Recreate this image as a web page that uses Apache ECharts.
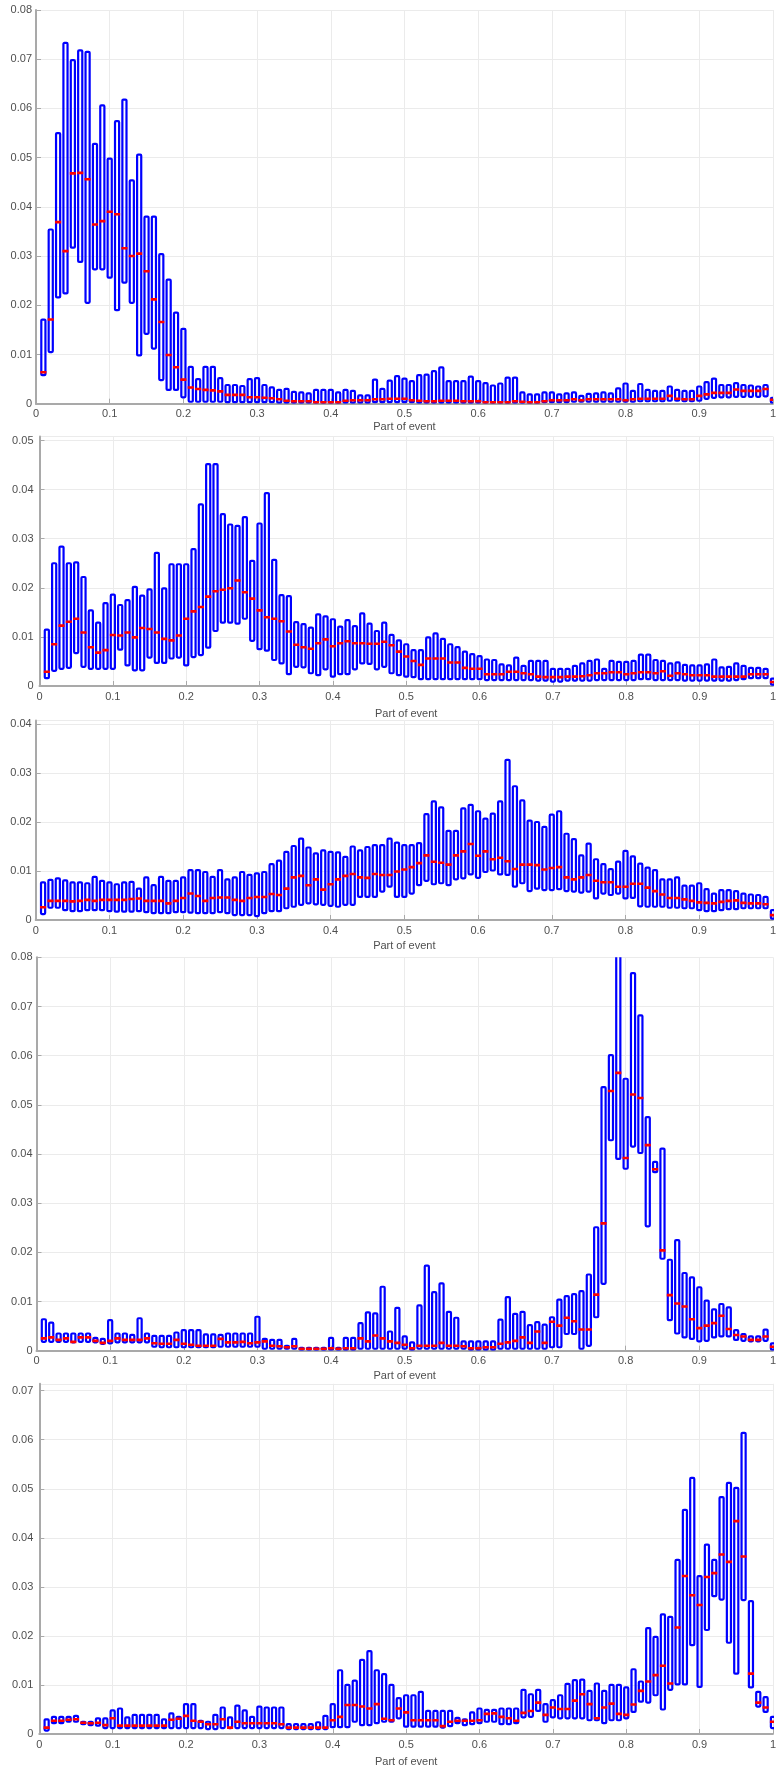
<!DOCTYPE html>
<html>
<head>
<meta charset="utf-8">
<title>Part of event</title>
<script src="https://cdn.jsdelivr.net/npm/echarts@6/dist/echarts.min.js"></script>
<style>
  html, body { margin: 0; padding: 0; background: #ffffff; }
  #chart { width: 779px; height: 1771px; }
</style>
</head>
<body>
<div id="chart"></div>
<script>
// Box positions along the event (fraction of the event)
const partOfEvent = [
  0.01,0.02,0.03,0.04,0.05,0.06,0.07,0.08,0.09,0.10,
  0.11,0.12,0.13,0.14,0.15,0.16,0.17,0.18,0.19,0.20,
  0.21,0.22,0.23,0.24,0.25,0.26,0.27,0.28,0.29,0.30,
  0.31,0.32,0.33,0.34,0.35,0.36,0.37,0.38,0.39,0.40,
  0.41,0.42,0.43,0.44,0.45,0.46,0.47,0.48,0.49,0.50,
  0.51,0.52,0.53,0.54,0.55,0.56,0.57,0.58,0.59,0.60,
  0.61,0.62,0.63,0.64,0.65,0.66,0.67,0.68,0.69,0.70,
  0.71,0.72,0.73,0.74,0.75,0.76,0.77,0.78,0.79,0.80,
  0.81,0.82,0.83,0.84,0.85,0.86,0.87,0.88,0.89,0.90,
  0.91,0.92,0.93,0.94,0.95,0.96,0.97,0.98,0.99,1.00
];

const xTicks = [0, 0.1, 0.2, 0.3, 0.4, 0.5, 0.6, 0.7, 0.8, 0.9, 1];
const yMax = [0.08, 0.0508, 0.0407, 0.08, 0.0714];

// ---- Event type 1 ----
const lowerQuartile1 = [
  0.0058,0.0105,0.0216,0.0224,0.0317,0.0288,0.0205,0.0273,0.0273,0.0256,
  0.0190,0.0246,0.0205,0.0098,0.0142,0.0112,0.0048,0.0028,0.0028,0.0013,
  0.0004,0.0004,0.0004,0.0004,0.0004,0.0003,0.0003,0.0003,0.0003,0.0003,
  0.0003,0.0003,0.0002,0.0002,0.0002,0.0002,0.0002,0.0002,0.0002,0.0002,
  0.0002,0.0002,0.0002,0.0002,0.0002,0.0003,0.0003,0.0003,0.0003,0.0003,
  0.0003,0.0002,0.0002,0.0002,0.0002,0.0002,0.0002,0.0002,0.0002,0.0002,
  0.0002,0.0002,0.0002,0.0002,0.0002,0.0002,0.0002,0.0002,0.0003,0.0003,
  0.0003,0.0003,0.0004,0.0004,0.0004,0.0004,0.0004,0.0004,0.0004,0.0004,
  0.0004,0.0005,0.0005,0.0005,0.0005,0.0006,0.0006,0.0005,0.0005,0.0006,
  0.0010,0.0012,0.0013,0.0013,0.0014,0.0014,0.0014,0.0014,0.0015,0.0002
];
const median1 = [
  0.0064,0.0171,0.0369,0.0310,0.0468,0.0469,0.0456,0.0364,0.0371,0.0390,
  0.0385,0.0316,0.0300,0.0305,0.0269,0.0212,0.0166,0.0099,0.0074,0.0049,
  0.0033,0.0030,0.0028,0.0027,0.0025,0.0018,0.0018,0.0018,0.0013,0.0013,
  0.0012,0.0011,0.0009,0.0006,0.0005,0.0005,0.0005,0.0003,0.0003,0.0003,
  0.0003,0.0006,0.0007,0.0007,0.0007,0.0009,0.0009,0.0010,0.0010,0.0010,
  0.0007,0.0006,0.0005,0.0005,0.0006,0.0006,0.0006,0.0005,0.0005,0.0005,
  0.0003,0.0003,0.0003,0.0003,0.0005,0.0004,0.0003,0.0003,0.0005,0.0007,
  0.0007,0.0007,0.0009,0.0007,0.0009,0.0009,0.0009,0.0009,0.0009,0.0007,
  0.0009,0.0010,0.0010,0.0010,0.0010,0.0016,0.0010,0.0009,0.0009,0.0016,
  0.0019,0.0022,0.0022,0.0022,0.0029,0.0026,0.0026,0.0026,0.0030,0.0008
];
const upperQuartile1 = [
  0.0171,0.0354,0.0550,0.0733,0.0698,0.0718,0.0715,0.0528,0.0606,0.0498,
  0.0574,0.0618,0.0454,0.0506,0.0380,0.0380,0.0304,0.0252,0.0185,0.0152,
  0.0075,0.0050,0.0075,0.0075,0.0052,0.0038,0.0038,0.0036,0.0050,0.0052,
  0.0038,0.0033,0.0028,0.0030,0.0024,0.0023,0.0021,0.0028,0.0028,0.0028,
  0.0023,0.0028,0.0026,0.0017,0.0017,0.0049,0.0030,0.0047,0.0056,0.0051,
  0.0046,0.0058,0.0059,0.0066,0.0074,0.0046,0.0046,0.0046,0.0055,0.0046,
  0.0042,0.0037,0.0041,0.0053,0.0053,0.0023,0.0019,0.0019,0.0023,0.0023,
  0.0019,0.0021,0.0023,0.0016,0.0020,0.0021,0.0023,0.0021,0.0031,0.0041,
  0.0026,0.0040,0.0028,0.0026,0.0026,0.0035,0.0028,0.0026,0.0026,0.0035,
  0.0044,0.0051,0.0038,0.0038,0.0042,0.0038,0.0037,0.0035,0.0038,0.0012
];

// ---- Event type 2 ----
const lowerQuartile2 = [
  0.0016,0.0031,0.0035,0.0037,0.0067,0.0039,0.0035,0.0035,0.0035,0.0035,
  0.0074,0.0042,0.0032,0.0032,0.0058,0.0047,0.0047,0.0056,0.0058,0.0042,
  0.0059,0.0063,0.0078,0.0112,0.0129,0.0129,0.0127,0.0137,0.0092,0.0075,
  0.0072,0.0053,0.0046,0.0024,0.0039,0.0038,0.0026,0.0022,0.0034,0.0019,
  0.0024,0.0024,0.0034,0.0046,0.0045,0.0034,0.0039,0.0026,0.0022,0.0019,
  0.0018,0.0014,0.0014,0.0014,0.0014,0.0014,0.0014,0.0014,0.0014,0.0014,
  0.0012,0.0012,0.0012,0.0012,0.0012,0.0012,0.0012,0.0011,0.0011,0.0009,
  0.0009,0.0011,0.0011,0.0011,0.0011,0.0012,0.0012,0.0012,0.0012,0.0012,
  0.0012,0.0014,0.0014,0.0012,0.0012,0.0012,0.0012,0.0011,0.0011,0.0011,
  0.0011,0.0011,0.0011,0.0011,0.0012,0.0014,0.0016,0.0016,0.0016,0.0003
];
const median2 = [
  0.0029,0.0085,0.0123,0.0131,0.0137,0.0109,0.0079,0.0068,0.0073,0.0104,
  0.0103,0.0109,0.0099,0.0118,0.0116,0.0109,0.0096,0.0093,0.0103,0.0137,
  0.0152,0.0161,0.0182,0.0193,0.0196,0.0199,0.0215,0.0191,0.0178,0.0154,
  0.0140,0.0137,0.0132,0.0111,0.0084,0.0079,0.0076,0.0087,0.0095,0.0081,
  0.0087,0.0091,0.0087,0.0087,0.0086,0.0086,0.0090,0.0083,0.0070,0.0060,
  0.0051,0.0043,0.0056,0.0056,0.0056,0.0048,0.0048,0.0037,0.0035,0.0035,
  0.0024,0.0024,0.0024,0.0029,0.0029,0.0026,0.0024,0.0019,0.0018,0.0018,
  0.0018,0.0019,0.0019,0.0020,0.0022,0.0026,0.0026,0.0028,0.0028,0.0024,
  0.0026,0.0028,0.0028,0.0026,0.0030,0.0021,0.0026,0.0024,0.0022,0.0022,
  0.0022,0.0019,0.0019,0.0019,0.0019,0.0019,0.0024,0.0024,0.0024,0.0008
];
const upperQuartile2 = [
  0.0115,0.0250,0.0284,0.0250,0.0252,0.0222,0.0154,0.0129,0.0169,0.0186,
  0.0165,0.0175,0.0202,0.0184,0.0197,0.0271,0.0199,0.0248,0.0248,0.0248,
  0.0279,0.0370,0.0452,0.0452,0.0350,0.0329,0.0326,0.0344,0.0255,0.0331,
  0.0393,0.0257,0.0185,0.0183,0.0130,0.0126,0.0119,0.0146,0.0142,0.0136,
  0.0121,0.0134,0.0122,0.0148,0.0127,0.0112,0.0129,0.0104,0.0093,0.0085,
  0.0073,0.0073,0.0099,0.0107,0.0096,0.0085,0.0079,0.0070,0.0065,0.0061,
  0.0054,0.0053,0.0044,0.0042,0.0058,0.0041,0.0051,0.0051,0.0051,0.0035,
  0.0035,0.0035,0.0041,0.0046,0.0051,0.0054,0.0035,0.0051,0.0049,0.0049,
  0.0051,0.0064,0.0064,0.0053,0.0051,0.0046,0.0048,0.0043,0.0042,0.0042,
  0.0044,0.0054,0.0038,0.0039,0.0046,0.0041,0.0037,0.0037,0.0035,0.0015
];

// ---- Event type 3 ----
const lowerQuartile3 = [
  0.0012,0.0025,0.0025,0.0020,0.0018,0.0018,0.0020,0.0020,0.0020,0.0018,
  0.0017,0.0017,0.0017,0.0018,0.0016,0.0014,0.0014,0.0014,0.0016,0.0016,
  0.0015,0.0014,0.0014,0.0014,0.0016,0.0014,0.0010,0.0010,0.0010,0.0008,
  0.0014,0.0018,0.0018,0.0024,0.0027,0.0031,0.0034,0.0032,0.0031,0.0029,
  0.0027,0.0031,0.0031,0.0047,0.0047,0.0047,0.0058,0.0068,0.0047,0.0047,
  0.0054,0.0071,0.0080,0.0073,0.0075,0.0071,0.0083,0.0085,0.0093,0.0086,
  0.0098,0.0101,0.0093,0.0092,0.0068,0.0075,0.0059,0.0064,0.0061,0.0061,
  0.0063,0.0059,0.0058,0.0056,0.0058,0.0044,0.0054,0.0051,0.0054,0.0044,
  0.0045,0.0028,0.0027,0.0027,0.0027,0.0025,0.0025,0.0024,0.0024,0.0020,
  0.0018,0.0018,0.0020,0.0022,0.0022,0.0024,0.0024,0.0024,0.0024,0.0003
];
const median3 = [
  0.0026,0.0039,0.0039,0.0039,0.0038,0.0039,0.0041,0.0039,0.0041,0.0041,
  0.0041,0.0041,0.0043,0.0044,0.0039,0.0039,0.0039,0.0034,0.0039,0.0045,
  0.0054,0.0049,0.0039,0.0045,0.0046,0.0046,0.0041,0.0039,0.0045,0.0047,
  0.0047,0.0053,0.0051,0.0064,0.0087,0.0090,0.0071,0.0083,0.0062,0.0073,
  0.0083,0.0090,0.0094,0.0087,0.0086,0.0094,0.0092,0.0092,0.0099,0.0103,
  0.0108,0.0116,0.0132,0.0119,0.0117,0.0113,0.0132,0.0140,0.0155,0.0131,
  0.0140,0.0124,0.0127,0.0120,0.0104,0.0113,0.0113,0.0112,0.0103,0.0106,
  0.0108,0.0087,0.0083,0.0087,0.0092,0.0080,0.0077,0.0077,0.0068,0.0068,
  0.0074,0.0074,0.0066,0.0059,0.0052,0.0045,0.0045,0.0042,0.0039,0.0036,
  0.0035,0.0034,0.0037,0.0039,0.0040,0.0035,0.0034,0.0034,0.0032,0.0010
];
const upperQuartile3 = [
  0.0077,0.0082,0.0085,0.0081,0.0077,0.0077,0.0075,0.0088,0.0080,0.0077,
  0.0073,0.0077,0.0078,0.0064,0.0087,0.0071,0.0088,0.0080,0.0080,0.0087,
  0.0102,0.0102,0.0098,0.0088,0.0102,0.0083,0.0087,0.0098,0.0092,0.0095,
  0.0098,0.0114,0.0121,0.0139,0.0151,0.0166,0.0148,0.0136,0.0142,0.0139,
  0.0138,0.0129,0.0150,0.0142,0.0149,0.0153,0.0153,0.0166,0.0158,0.0153,
  0.0153,0.0157,0.0216,0.0242,0.0230,0.0182,0.0182,0.0228,0.0235,0.0222,
  0.0207,0.0217,0.0242,0.0327,0.0273,0.0244,0.0203,0.0200,0.0190,0.0215,
  0.0222,0.0176,0.0165,0.0132,0.0156,0.0124,0.0114,0.0104,0.0119,0.0141,
  0.0130,0.0115,0.0107,0.0102,0.0083,0.0083,0.0087,0.0070,0.0070,0.0075,
  0.0063,0.0054,0.0061,0.0061,0.0059,0.0054,0.0052,0.0051,0.0047,0.0020
];

// ---- Event type 4 ----
const lowerQuartile4 = [
  0.0018,0.0018,0.0018,0.0018,0.0017,0.0018,0.0018,0.0017,0.0014,0.0015,
  0.0017,0.0017,0.0017,0.0017,0.0017,0.0008,0.0007,0.0007,0.0007,0.0007,
  0.0007,0.0007,0.0007,0.0007,0.0008,0.0008,0.0008,0.0008,0.0008,0.0008,
  0.0004,0.0004,0.0004,0.0004,0.0004,0.0002,0.0002,0.0002,0.0002,0.0002,
  0.0002,0.0002,0.0002,0.0004,0.0004,0.0004,0.0004,0.0004,0.0004,0.0004,
  0.0002,0.0004,0.0004,0.0004,0.0004,0.0004,0.0004,0.0004,0.0002,0.0002,
  0.0002,0.0002,0.0004,0.0004,0.0004,0.0004,0.0004,0.0004,0.0004,0.0007,
  0.0007,0.0034,0.0034,0.0004,0.0010,0.0068,0.0136,0.0428,0.0390,0.0370,
  0.0415,0.0402,0.0253,0.0363,0.0187,0.0062,0.0035,0.0027,0.0024,0.0019,
  0.0020,0.0027,0.0029,0.0029,0.0022,0.0020,0.0019,0.0019,0.0020,0.0002
];
const median4 = [
  0.0025,0.0027,0.0022,0.0025,0.0018,0.0027,0.0027,0.0020,0.0016,0.0020,
  0.0025,0.0022,0.0022,0.0022,0.0025,0.0015,0.0014,0.0014,0.0022,0.0014,
  0.0012,0.0010,0.0010,0.0010,0.0024,0.0017,0.0017,0.0018,0.0015,0.0017,
  0.0019,0.0010,0.0009,0.0007,0.0009,0.0004,0.0004,0.0004,0.0004,0.0005,
  0.0004,0.0005,0.0005,0.0025,0.0019,0.0031,0.0025,0.0019,0.0016,0.0012,
  0.0005,0.0010,0.0010,0.0010,0.0016,0.0010,0.0010,0.0009,0.0005,0.0005,
  0.0007,0.0007,0.0014,0.0017,0.0020,0.0027,0.0016,0.0039,0.0016,0.0059,
  0.0051,0.0067,0.0060,0.0043,0.0043,0.0114,0.0259,0.0528,0.0565,0.0392,
  0.0521,0.0514,0.0418,0.0369,0.0204,0.0113,0.0096,0.0090,0.0064,0.0046,
  0.0051,0.0056,0.0071,0.0044,0.0032,0.0029,0.0022,0.0022,0.0029,0.0008
];
const upperQuartile4 = [
  0.0064,0.0057,0.0035,0.0035,0.0035,0.0035,0.0035,0.0026,0.0024,0.0062,
  0.0035,0.0035,0.0032,0.0066,0.0035,0.0030,0.0030,0.0030,0.0037,0.0042,
  0.0042,0.0042,0.0033,0.0033,0.0032,0.0035,0.0035,0.0035,0.0035,0.0069,
  0.0024,0.0022,0.0022,0.0010,0.0024,0.0006,0.0006,0.0006,0.0006,0.0026,
  0.0006,0.0026,0.0026,0.0056,0.0078,0.0076,0.0130,0.0039,0.0087,0.0029,
  0.0017,0.0092,0.0173,0.0119,0.0137,0.0079,0.0067,0.0019,0.0019,0.0019,
  0.0019,0.0019,0.0063,0.0109,0.0075,0.0079,0.0052,0.0058,0.0053,0.0068,
  0.0104,0.0111,0.0115,0.0121,0.0155,0.0251,0.0536,0.0601,0.0840,0.0553,
  0.0768,0.0682,0.0475,0.0384,0.0411,0.0185,0.0225,0.0158,0.0149,0.0129,
  0.0102,0.0084,0.0095,0.0088,0.0042,0.0034,0.0029,0.0029,0.0043,0.0015
];

// ---- Event type 5 ----
const lowerQuartile5 = [
  0.0007,0.0022,0.0022,0.0025,0.0025,0.0020,0.0018,0.0017,0.0012,0.0012,
  0.0012,0.0012,0.0012,0.0012,0.0012,0.0012,0.0012,0.0012,0.0012,0.0012,
  0.0012,0.0012,0.0010,0.0010,0.0012,0.0012,0.0012,0.0012,0.0012,0.0012,
  0.0012,0.0012,0.0012,0.0010,0.0010,0.0010,0.0010,0.0010,0.0010,0.0014,
  0.0014,0.0014,0.0025,0.0018,0.0018,0.0022,0.0025,0.0025,0.0032,0.0015,
  0.0015,0.0015,0.0015,0.0015,0.0013,0.0016,0.0022,0.0018,0.0020,0.0022,
  0.0025,0.0025,0.0020,0.0020,0.0022,0.0034,0.0035,0.0047,0.0025,0.0034,
  0.0032,0.0032,0.0032,0.0032,0.0028,0.0028,0.0022,0.0028,0.0028,0.0032,
  0.0045,0.0066,0.0064,0.0079,0.0050,0.0090,0.0101,0.0101,0.0181,0.0096,
  0.0212,0.0281,0.0274,0.0186,0.0123,0.0273,0.0095,0.0056,0.0045,0.0012
];
const median5 = [
  0.0013,0.0027,0.0027,0.0029,0.0030,0.0023,0.0022,0.0023,0.0018,0.0032,
  0.0017,0.0017,0.0017,0.0017,0.0017,0.0017,0.0017,0.0029,0.0031,0.0037,
  0.0027,0.0025,0.0020,0.0020,0.0030,0.0013,0.0025,0.0022,0.0022,0.0022,
  0.0022,0.0022,0.0020,0.0013,0.0013,0.0013,0.0013,0.0013,0.0013,0.0028,
  0.0035,0.0059,0.0059,0.0056,0.0052,0.0061,0.0031,0.0028,0.0052,0.0044,
  0.0028,0.0028,0.0028,0.0028,0.0016,0.0025,0.0027,0.0027,0.0027,0.0028,
  0.0041,0.0042,0.0035,0.0032,0.0027,0.0043,0.0047,0.0064,0.0039,0.0054,
  0.0051,0.0051,0.0068,0.0081,0.0061,0.0032,0.0054,0.0062,0.0041,0.0039,
  0.0060,0.0088,0.0107,0.0120,0.0139,0.0103,0.0217,0.0322,0.0283,0.0263,
  0.0320,0.0328,0.0366,0.0351,0.0434,0.0362,0.0123,0.0064,0.0054,0.0025
];
const upperQuartile5 = [
  0.0030,0.0035,0.0035,0.0035,0.0037,0.0025,0.0025,0.0032,0.0032,0.0048,
  0.0052,0.0034,0.0039,0.0039,0.0039,0.0039,0.0030,0.0042,0.0035,0.0061,
  0.0061,0.0027,0.0025,0.0039,0.0054,0.0034,0.0058,0.0048,0.0035,0.0056,
  0.0054,0.0054,0.0054,0.0020,0.0020,0.0020,0.0020,0.0024,0.0037,0.0061,
  0.0130,0.0100,0.0109,0.0151,0.0169,0.0130,0.0122,0.0100,0.0073,0.0079,
  0.0079,0.0086,0.0047,0.0047,0.0047,0.0047,0.0033,0.0030,0.0044,0.0052,
  0.0049,0.0049,0.0052,0.0052,0.0052,0.0090,0.0081,0.0090,0.0061,0.0069,
  0.0079,0.0102,0.0110,0.0111,0.0088,0.0103,0.0088,0.0100,0.0100,0.0095,
  0.0132,0.0107,0.0216,0.0198,0.0244,0.0239,0.0355,0.0457,0.0522,0.0322,
  0.0386,0.0355,0.0483,0.0512,0.0502,0.0614,0.0271,0.0086,0.0075,0.0035
];

const events = [
  [lowerQuartile1, median1, upperQuartile1],
  [lowerQuartile2, median2, upperQuartile2],
  [lowerQuartile3, median3, upperQuartile3],
  [lowerQuartile4, median4, upperQuartile4],
  [lowerQuartile5, median5, upperQuartile5]
];

// Plot-area placement of the five stacked panels (pixels)
const panels = [
  { left: 36,   top: 10,     width: 747, height: 393.7, nameGap: 18, yMargin: 4 },
  { left: 39.5, top: 436.6,  width: 740, height: 249.4, nameGap: 22, yMargin: 6 },
  { left: 35.7, top: 720.6,  width: 747, height: 199.4, nameGap: 20, yMargin: 4 },
  { left: 36.5, top: 957.3,  width: 747, height: 393.4, nameGap: 20, yMargin: 4 },
  { left: 39.3, top: 1383.8, width: 740, height: 350.2, nameGap: 22, yMargin: 6 }
];

const FONT = 'Liberation Sans, Arial, Helvetica, sans-serif';
const AXIS_GREY = '#a9a9a9';
const TEXT_GREY = '#4f4f4f';

function yLabel(v) {
  const k = Math.round(v * 100);
  if (Math.abs(v * 100 - k) > 1e-6) return '';
  return k === 0 ? '0' : (k / 100).toFixed(2);
}
function xLabel(v) {
  const k = Math.round(v * 10);
  if (Math.abs(v * 10 - k) > 1e-6) return '';
  if (k === 0) return '0';
  if (k === 10) return '1';
  return (k / 10).toFixed(1);
}

// One box per position: blue interquartile box with a red median bar
function renderBox(params, api) {
  const x = api.value(0);
  const lo = api.coord([x, api.value(1)]);
  const md = api.coord([x, api.value(2)]);
  const hi = api.coord([x, api.value(3)]);
  const step = api.size([0.01, 0])[0];
  const w = step * 0.56;
  return {
    type: 'group',
    children: [
      {
        type: 'rect',
        shape: { x: hi[0] - w / 2, y: hi[1], width: w, height: lo[1] - hi[1], r: 1 },
        style: { fill: 'none', stroke: '#0000ff', lineWidth: 2.2 }
      },
      {
        type: 'line',
        shape: { x1: md[0] - w / 2 - 1, y1: md[1], x2: md[0] + w / 2 + 1, y2: md[1] },
        style: { stroke: '#ff0000', lineWidth: 2.6 }
      }
    ]
  };
}

const grid = [], xAxis = [], yAxis = [], series = [];
panels.forEach((p, i) => {
  grid.push({ left: p.left, top: p.top, width: p.width, height: p.height, containLabel: false });
  xAxis.push({
    type: 'value', gridIndex: i, min: xTicks[0], max: xTicks[xTicks.length - 1], interval: 0.1,
    name: 'Part of event', nameLocation: 'middle', nameGap: p.nameGap,
    nameTextStyle: { color: TEXT_GREY, fontSize: 11, fontFamily: FONT, verticalAlign: 'top' },
    axisLine: { show: true, onZero: false, lineStyle: { color: AXIS_GREY, width: 2 } },
    axisTick: { show: true, inside: true, length: 5, lineStyle: { color: AXIS_GREY, width: 1 } },
    axisLabel: { color: TEXT_GREY, fontSize: 11, fontFamily: FONT, margin: 5, formatter: xLabel },
    splitLine: { show: true, lineStyle: { color: '#ebebeb', width: 1 } }
  });
  yAxis.push({
    type: 'value', gridIndex: i, min: 0, max: yMax[i], interval: 0.01,
    axisLine: { show: true, onZero: false, lineStyle: { color: AXIS_GREY, width: 2 } },
    axisTick: { show: true, inside: true, length: 5, lineStyle: { color: AXIS_GREY, width: 1 } },
    axisLabel: { color: TEXT_GREY, fontSize: 11, fontFamily: FONT, margin: p.yMargin, formatter: yLabel,
                 showMaxLabel: yMax[i] === 0.08 },
    splitLine: { show: true, lineStyle: { color: '#ebebeb', width: 1 } }
  });
  const [q1, med, q3] = events[i];
  series.push({
    type: 'custom',
    xAxisIndex: i, yAxisIndex: i,
    clip: true,
    renderItem: renderBox,
    encode: { x: 0, y: [1, 2, 3] },
    data: partOfEvent.map((x, k) => [x, q1[k], med[k], q3[k]]),
    silent: true,
    animation: false
  });
});

const chart = echarts.init(document.getElementById('chart'), null, { renderer: 'canvas' });
chart.setOption({
  backgroundColor: '#ffffff',
  animation: false,
  grid, xAxis, yAxis, series
});
</script>
</body>
</html>
